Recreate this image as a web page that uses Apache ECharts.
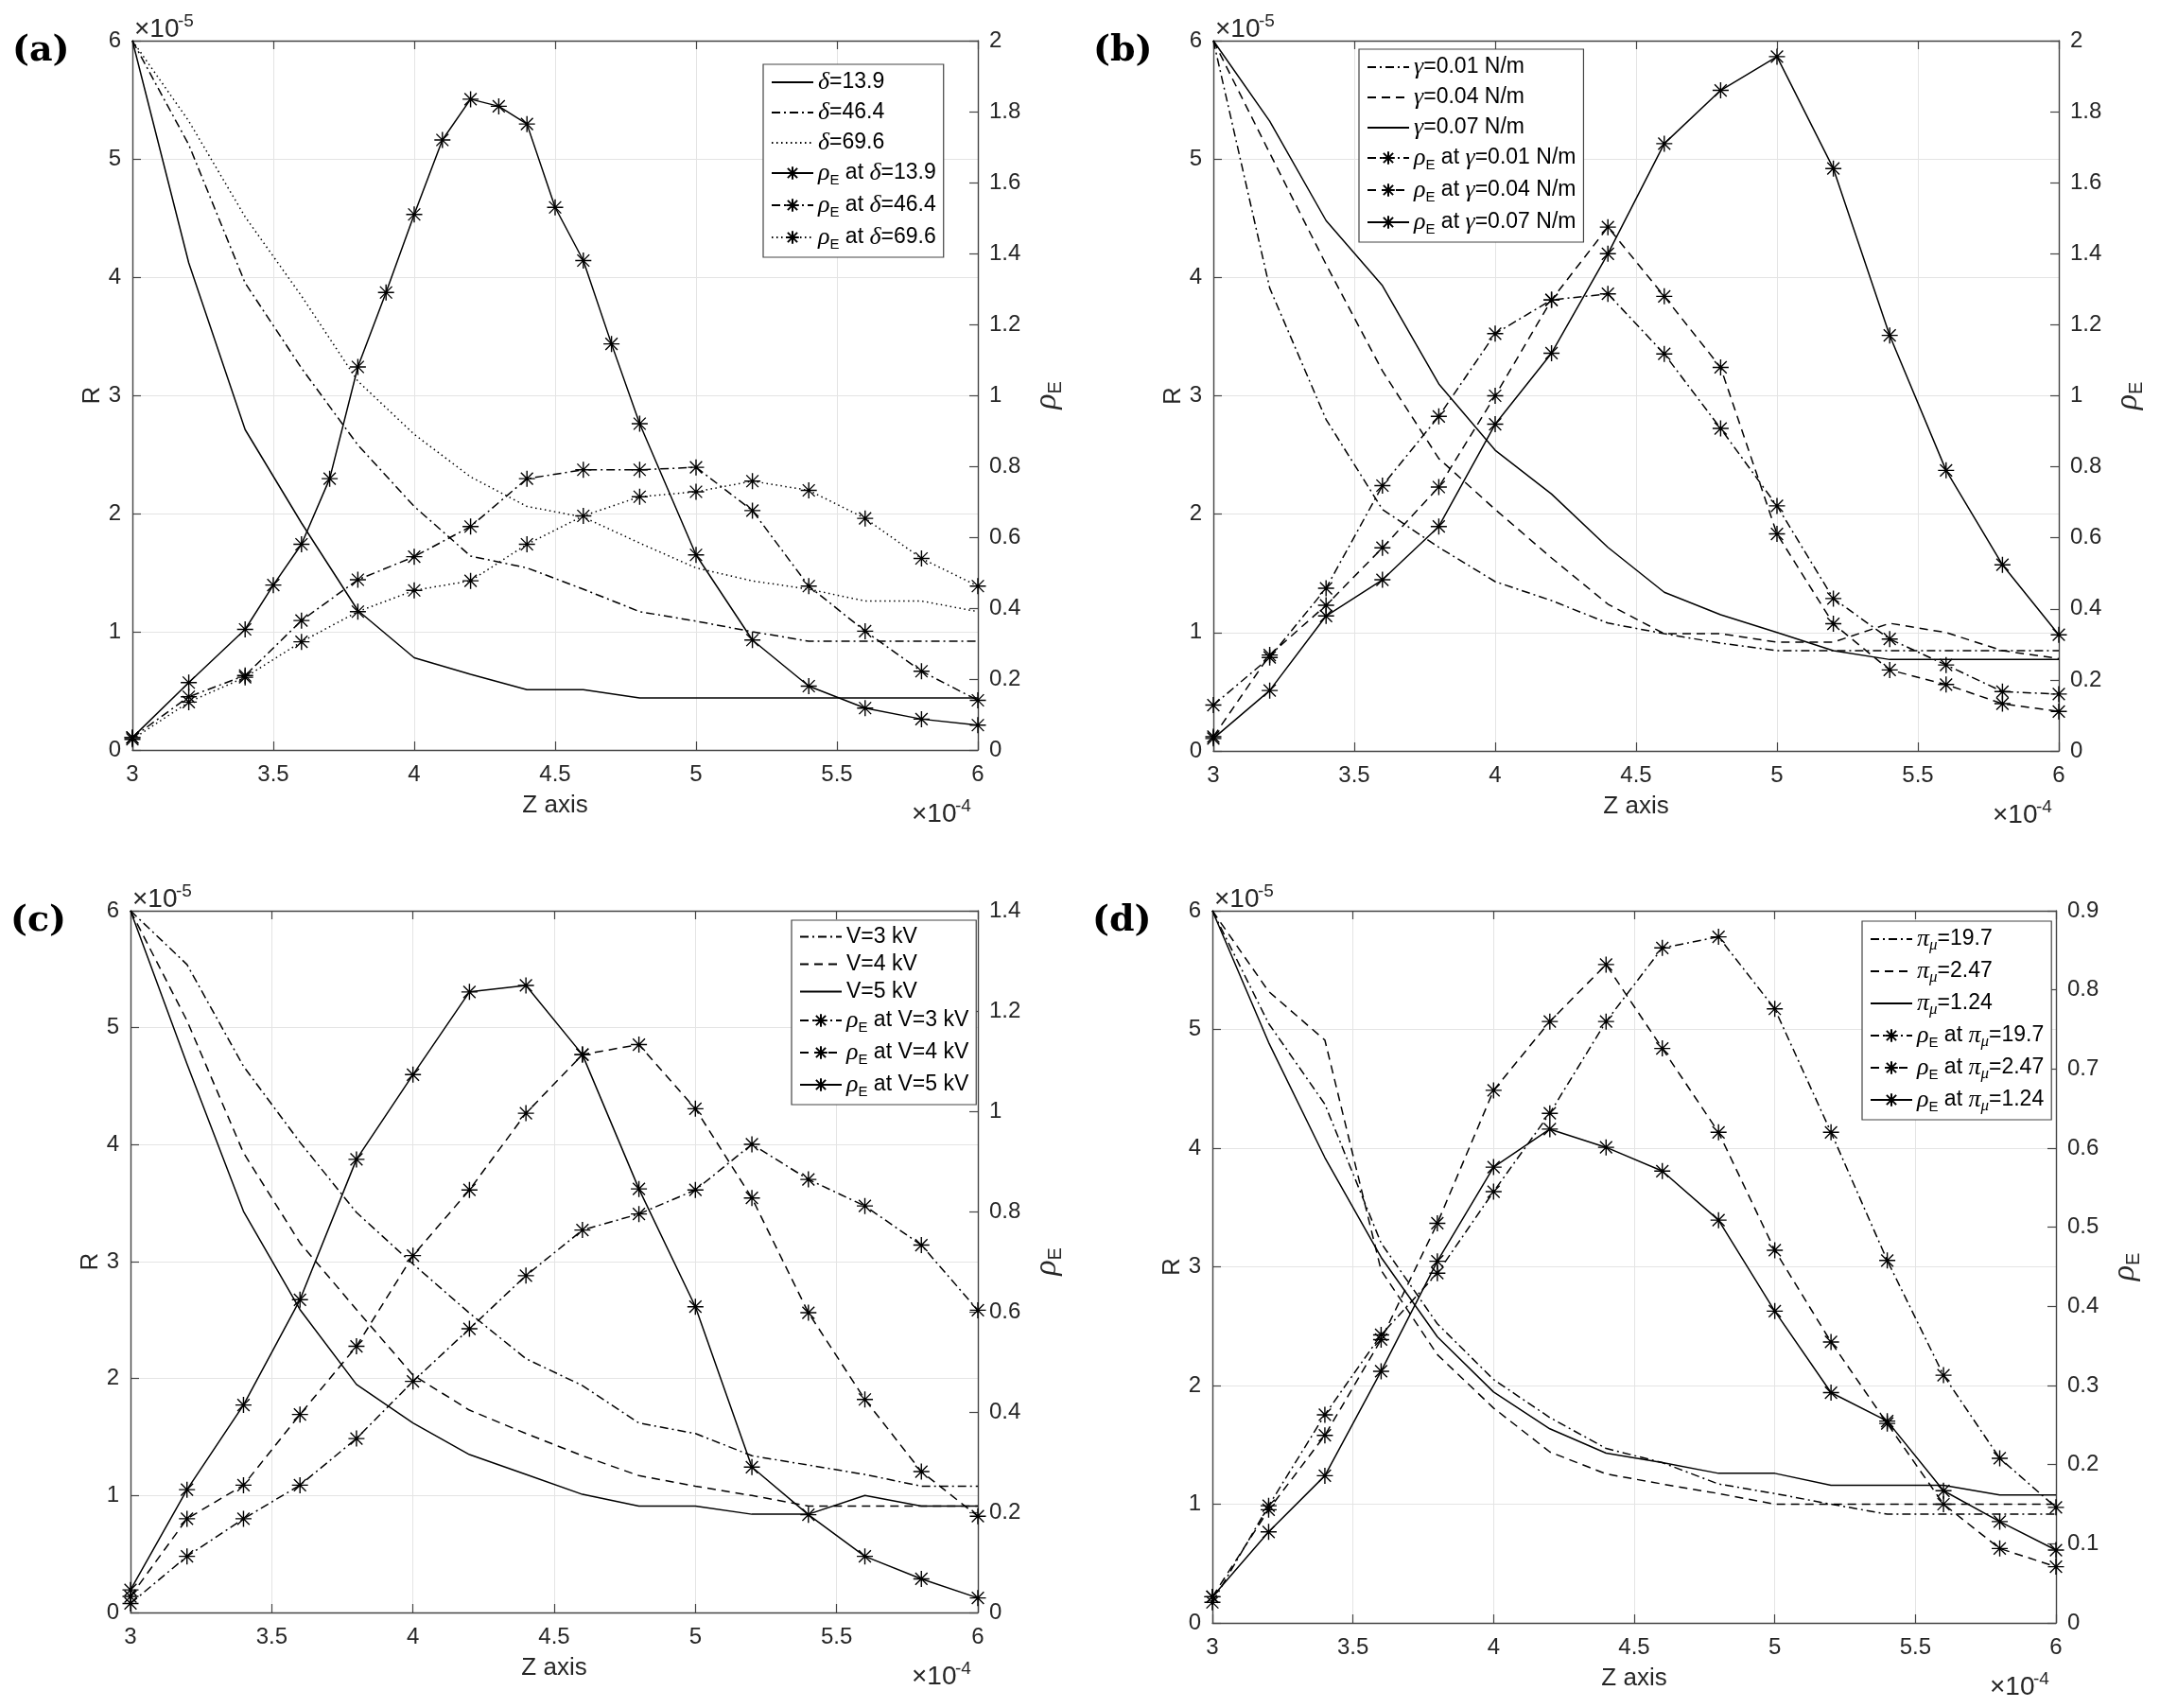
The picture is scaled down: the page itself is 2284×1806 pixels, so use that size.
<!DOCTYPE html>
<html>
<head>
<meta charset="utf-8">
<script src="https://cdn.jsdelivr.net/npm/echarts@6/dist/echarts.min.js"></script>
<style>
    html, body { margin: 0; padding: 0; background: #fff; }
    #chart { width: 2284px; height: 1806px; }
</style>
</head>
<body>
<div id="chart"></div>
<script>
// Z positions (x 10^-4)
const zStep = [3.0, 3.2, 3.4, 3.6, 3.8, 4.0, 4.2, 4.4, 4.6, 4.8, 5.0, 5.2, 5.4, 5.6, 5.8, 6.0]
const zFineDelta139 = [3.0, 3.2, 3.4, 3.5, 3.6, 3.7, 3.8, 3.9, 4.0, 4.1, 4.2, 4.3, 4.4, 4.5, 4.6, 4.7, 4.8, 5.0, 5.2, 5.4, 5.6, 5.8, 6.0]

// (a) R (x 10^-5) and rho_E for delta
const rDelta139 = [6.0, 4.12, 2.71, 1.92, 1.18, 0.78, 0.64, 0.51, 0.51, 0.44, 0.44, 0.44, 0.44, 0.44, 0.44, 0.44]
const rDelta464 = [6.0, 5.12, 3.95, 3.23, 2.58, 2.06, 1.64, 1.54, 1.36, 1.17, 1.09, 1.0, 0.92, 0.92, 0.92, 0.92]
const rDelta696 = [6.0, 5.32, 4.51, 3.84, 3.12, 2.67, 2.31, 2.06, 1.97, 1.75, 1.54, 1.43, 1.36, 1.26, 1.26, 1.17]
const rhoDelta139 = [0.035, 0.19, 0.34, 0.465, 0.58, 0.765, 1.08, 1.29, 1.51, 1.72, 1.835, 1.815, 1.765, 1.53, 1.38, 1.145, 0.92, 0.55, 0.31, 0.18, 0.118, 0.087, 0.07]
const rhoDelta464 = [0.035, 0.15, 0.21, 0.365, 0.48, 0.545, 0.63, 0.765, 0.79, 0.79, 0.797, 0.675, 0.462, 0.335, 0.222, 0.14]
const rhoDelta696 = [0.03, 0.135, 0.205, 0.305, 0.39, 0.45, 0.477, 0.58, 0.66, 0.714, 0.728, 0.758, 0.732, 0.653, 0.54, 0.462]

// (b) gamma
const rGamma001 = [6.0, 3.91, 2.8, 2.04, 1.72, 1.43, 1.27, 1.08, 0.99, 0.91, 0.847, 0.847, 0.847, 0.847, 0.847, 0.847]
const rGamma004 = [6.0, 5.05, 4.11, 3.21, 2.47, 2.04, 1.63, 1.24, 0.99, 0.99, 0.919, 0.919, 1.078, 1.0, 0.847, 0.78]
const rGamma007 = [6.0, 5.32, 4.48, 3.93, 3.1, 2.54, 2.17, 1.72, 1.34, 1.15, 1.0, 0.847, 0.772, 0.772, 0.772, 0.772]
const rhoGamma001 = [0.129, 0.263, 0.458, 0.747, 0.942, 1.175, 1.27, 1.287, 1.118, 0.908, 0.69, 0.429, 0.315, 0.242, 0.167, 0.16]
const rhoGamma004 = [0.04, 0.27, 0.41, 0.572, 0.743, 1.0, 1.27, 1.475, 1.28, 1.08, 0.611, 0.358, 0.228, 0.187, 0.133, 0.111]
const rhoGamma007 = [0.035, 0.17, 0.38, 0.482, 0.632, 0.92, 1.12, 1.4, 1.71, 1.86, 1.955, 1.64, 1.17, 0.79, 0.524, 0.327]

// (c) voltage
const rV3 = [6.0, 5.54, 4.67, 4.02, 3.42, 2.98, 2.56, 2.17, 1.94, 1.62, 1.53, 1.34, 1.26, 1.18, 1.08, 1.08]
const rV4 = [6.0, 5.06, 3.93, 3.16, 2.59, 2.03, 1.73, 1.53, 1.34, 1.17, 1.08, 1.0, 0.91, 0.91, 0.91, 0.91]
const rV5 = [6.0, 4.69, 3.43, 2.59, 1.95, 1.62, 1.35, 1.18, 1.01, 0.91, 0.91, 0.84, 0.84, 1.0, 0.91, 0.91]
const rhoV3 = [0.018, 0.112, 0.187, 0.254, 0.347, 0.461, 0.566, 0.672, 0.763, 0.795, 0.843, 0.934, 0.864, 0.811, 0.733, 0.603]
const rhoV4 = [0.032, 0.187, 0.254, 0.395, 0.531, 0.712, 0.843, 0.996, 1.113, 1.133, 1.005, 0.827, 0.598, 0.425, 0.281, 0.192]
const rhoV5 = [0.045, 0.245, 0.414, 0.624, 0.904, 1.073, 1.238, 1.251, 1.113, 0.845, 0.61, 0.29, 0.195, 0.112, 0.067, 0.029]

// (d) pi_mu
const rPi197 = [6.0, 5.05, 4.37, 3.2, 2.52, 2.05, 1.73, 1.47, 1.35, 1.17, 1.09, 1.0, 0.916, 0.916, 0.916, 0.916]
const rPi247 = [6.0, 5.32, 4.91, 2.97, 2.26, 1.81, 1.44, 1.255, 1.17, 1.09, 1.0, 1.0, 1.0, 1.0, 1.0, 1.0]
const rPi124 = [6.0, 4.89, 3.92, 3.08, 2.41, 1.945, 1.635, 1.43, 1.35, 1.26, 1.26, 1.16, 1.16, 1.16, 1.077, 1.077]
const rhoPi197 = [0.026, 0.148, 0.263, 0.364, 0.442, 0.545, 0.644, 0.76, 0.853, 0.867, 0.776, 0.62, 0.458, 0.313, 0.208, 0.146]
const rhoPi247 = [0.033, 0.143, 0.237, 0.358, 0.505, 0.673, 0.76, 0.832, 0.726, 0.62, 0.471, 0.355, 0.252, 0.15, 0.094, 0.071]
const rhoPi124 = [0.033, 0.115, 0.186, 0.318, 0.457, 0.576, 0.624, 0.601, 0.571, 0.509, 0.394, 0.291, 0.255, 0.167, 0.128, 0.092]

// axis ticks
const zTicks = { min: 3, max: 6, step: 0.5 }
const rTicks = { min: 0, max: 6, step: 1 }
const rhoTicks = [
    { max: 2, step: 0.2 },
    { max: 2, step: 0.2 },
    { max: 1.4, step: 0.2 },
    { max: 0.9, step: 0.1 },
]

// styles
const SANS = 'Liberation Sans'
const SERIF = 'Liberation Serif'
const STAR = 'path://M0,-10L0,10M-10,0L10,0M-7.5,-7.5L7.5,7.5M-7.5,7.5L7.5,-7.5'
const dash = { solid: 'solid', dashed: [9, 6], dashdot: [9, 4, 2, 4], dotted: [1.5, 3.5] }
const axisColor = '#444'
const textColor = '#262626'
const hidden = 'rgba(0,0,0,0)'

const panels = [
    {
        tag: '(a)', box: [140, 43, 894, 750], legendPos: [807, 68],
        sym: 'δ', vals: ['13.9', '46.4', '69.6'], unit: '',
        styles: ['solid', 'dashdot', 'dotted'],
        r: [rDelta139, rDelta464, rDelta696],
        rho: [rhoDelta139, rhoDelta464, rhoDelta696],
        rhoZ: [zFineDelta139, zStep, zStep],
    },
    {
        tag: '(b)', box: [1283, 43, 894, 751], legendPos: [1437, 52],
        sym: 'γ', vals: ['0.01', '0.04', '0.07'], unit: ' N/m',
        styles: ['dashdot', 'dashed', 'solid'],
        r: [rGamma001, rGamma004, rGamma007],
        rho: [rhoGamma001, rhoGamma004, rhoGamma007],
        rhoZ: [zStep, zStep, zStep],
    },
    {
        tag: '(c)', box: [138, 963, 896, 742], legendPos: [837, 973],
        sym: 'V', vals: ['3', '4', '5'], unit: ' kV',
        styles: ['dashdot', 'dashed', 'solid'],
        r: [rV3, rV4, rV5],
        rho: [rhoV3, rhoV4, rhoV5],
        rhoZ: [zStep, zStep, zStep],
    },
    {
        tag: '(d)', box: [1282, 963, 892, 753], legendPos: [1969, 974],
        sym: 'π', vals: ['19.7', '2.47', '1.24'], unit: '',
        styles: ['dashdot', 'dashed', 'solid'],
        r: [rPi197, rPi247, rPi124],
        rho: [rhoPi197, rhoPi247, rhoPi124],
        rhoZ: [zStep, zStep, zStep],
    },
]

const richText = {
    t: { fontFamily: SANS, fontSize: 23, lineHeight: 30, color: '#000' },
    g: { fontFamily: SERIF, fontStyle: 'italic', fontSize: 26, lineHeight: 30, color: '#000' },
    s: { fontFamily: SANS, fontSize: 15, lineHeight: 16, verticalAlign: 'bottom', color: '#000' },
    m: { fontFamily: SERIF, fontStyle: 'italic', fontSize: 17, lineHeight: 16, verticalAlign: 'bottom', color: '#000' },
}

// rich label for the parameter part, e.g. "δ=13.9" or "π_μ=1.24"
const paramRich = (p, v) => {
    if (p.sym === 'V') return `{t|V=${v}${p.unit}}`
    if (p.sym === 'π') return `{g|π}{m|μ}{t|=${v}}`
    return `{g|${p.sym}}{t|=${v}${p.unit}}`
}

// "×10" + superscript exponent, drawn as two plain texts (bottom = bottom of the "×10" box)
const expLabel = (x, bottom, exp, alignRight) => {
    const baseW = 46
    const supW = 24
    const x0 = alignRight ? x - baseW - supW : x
    return [
        {
            type: 'text', x: x0, y: bottom,
            style: { text: '×10', font: `28px "${SANS}"`, fill: textColor, align: 'left', verticalAlign: 'bottom' },
        },
        {
            type: 'text', x: x0 + baseW, y: bottom - 13,
            style: { text: exp, font: `19px "${SANS}"`, fill: textColor, align: 'left', verticalAlign: 'bottom' },
        },
    ]
}

const labelMap = {}
const series = []
const xAxis = []
const yAxis = []
const grid = []
const legend = []
const graphic = []

const makeSeries = (name, gi, yIdx, zs, vals, style, marker) => ({
    type: 'line',
    name: name,
    xAxisIndex: gi * 2,
    yAxisIndex: yIdx,
    data: zs.map((z, k) => [z, vals[k]]),
    symbol: marker ? STAR : 'none',
    symbolSize: 17,
    showSymbol: marker,
    lineStyle: { color: '#000', width: 1.5, type: dash[style] },
    itemStyle: { color: '#000', borderColor: '#000', borderWidth: 1.4 },
    emphasis: { disabled: true },
    silent: true,
    z: marker ? 3 : 2,
})

panels.forEach((p, gi) => {
    const [left, top, width, height] = p.box
    grid.push({ left: left, top: top, width: width, height: height, show: false })

    // bottom and top x axes (top one only closes the box)
    const xBase = {
        type: 'value', gridIndex: gi, min: zTicks.min, max: zTicks.max, interval: zTicks.step,
        axisLine: { show: true, onZero: false, lineStyle: { color: axisColor, width: 1.4 } },
        axisTick: { show: true, inside: true, length: 9, lineStyle: { color: axisColor, width: 1.2 } },
    }
    xAxis.push({
        ...xBase, position: 'bottom',
        name: 'Z axis', nameLocation: 'middle', nameGap: 46,
        nameTextStyle: { fontFamily: SANS, fontSize: 26, color: textColor },
        axisLabel: { margin: 14, fontFamily: SANS, fontSize: 24, color: textColor },
        splitLine: { show: true, lineStyle: { color: '#e4e4e4', width: 1 } },
    })
    xAxis.push({ ...xBase, position: 'top', axisLabel: { show: false }, splitLine: { show: false } })

    yAxis.push({
        type: 'value', gridIndex: gi, position: 'left', min: rTicks.min, max: rTicks.max, interval: rTicks.step,
        name: 'R', nameLocation: 'middle', nameRotate: 90, nameGap: 28,
        nameTextStyle: { fontFamily: SANS, fontSize: 26, color: textColor },
        axisLine: { show: true, onZero: false, lineStyle: { color: axisColor, width: 1.4 } },
        axisTick: { show: true, inside: true, length: 9, lineStyle: { color: axisColor, width: 1.2 } },
        axisLabel: { margin: 12, fontFamily: SANS, fontSize: 24, color: textColor },
        splitLine: { show: true, lineStyle: { color: '#e4e4e4', width: 1 } },
    })
    yAxis.push({
        type: 'value', gridIndex: gi, position: 'right', min: 0, max: rhoTicks[gi].max, interval: rhoTicks[gi].step,
        name: '{g|ρ}{s|E}', nameLocation: 'middle', nameRotate: 90, nameGap: 54,
        nameTextStyle: {
            rich: {
                g: { fontFamily: SERIF, fontStyle: 'italic', fontSize: 34, lineHeight: 38, color: textColor },
                s: { fontFamily: SANS, fontSize: 20, lineHeight: 20, verticalAlign: 'bottom', color: textColor },
            },
        },
        axisLine: { show: true, onZero: false, lineStyle: { color: axisColor, width: 1.4 } },
        axisTick: { show: true, inside: true, length: 9, lineStyle: { color: axisColor, width: 1.2 } },
        axisLabel: { margin: 12, fontFamily: SANS, fontSize: 24, color: textColor },
        splitLine: { show: false },
    })

    const legendData = []
    p.vals.forEach((v, k) => {
        const name = `${p.sym}=${v}${p.unit}`
        labelMap[name] = paramRich(p, v)
        // no marker on the R lines: hide the legend symbol, keep the line sample
        legendData.push({ name: name, itemStyle: { color: hidden, borderColor: hidden, borderWidth: 0 } })
        series.push(makeSeries(name, gi, gi * 2, zStep, p.r[k], p.styles[k], false))
    })
    p.vals.forEach((v, k) => {
        const name = `ρE at ${p.sym}=${v}${p.unit}`
        labelMap[name] = `{g|ρ}{s|E}{t| at }` + paramRich(p, v)
        legendData.push({ name: name })
        series.push(makeSeries(name, gi, gi * 2 + 1, p.rhoZ[k], p.rho[k], p.styles[k], true))
    })

    legend.push({
        data: legendData, orient: 'vertical', left: p.legendPos[0], top: p.legendPos[1],
        itemWidth: 44, itemHeight: 17, itemGap: 6, padding: [6, 8, 6, 8],
        backgroundColor: '#fff', borderColor: '#444', borderWidth: 1.2,
        selectedMode: false,
        formatter: (n) => labelMap[n],
        textStyle: { rich: richText },
    })

    // panel tag and exponent labels
    graphic.push({
        type: 'text', x: left - 127, y: top - 8,
        style: { text: p.tag, font: `bold 38px "DejaVu Serif"`, fill: '#000', align: 'left', verticalAlign: 'top' },
    })
    graphic.push(...expLabel(left + 2, top + 2, '-5', false))
    graphic.push(...expLabel(left + width, top + height + 82, '-4', true))
})

const myChart = echarts.init(document.getElementById('chart'), null, { renderer: 'canvas' })
myChart.setOption({
    backgroundColor: '#fff',
    animation: false,
    grid: grid,
    xAxis: xAxis,
    yAxis: yAxis,
    legend: legend,
    series: series,
    graphic: graphic,
})
</script>
</body>
</html>
